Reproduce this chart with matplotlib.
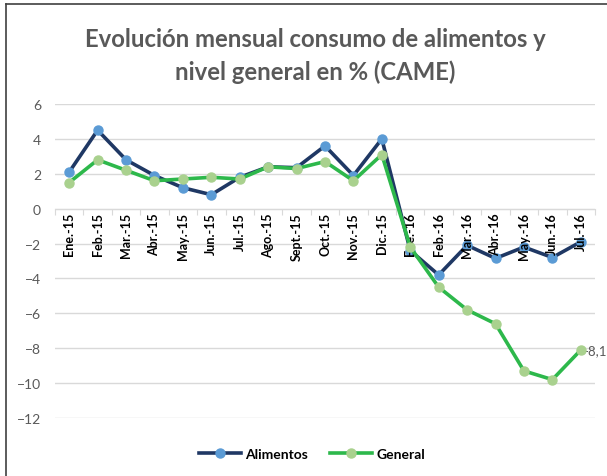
import matplotlib
matplotlib.use('Agg')
import matplotlib.pyplot as plt
from matplotlib.lines import Line2D
import numpy as np

plt.rcParams['font.family'] = ['Lato', 'DejaVu Sans']

meses = ['Ene.-15', 'Feb.-15', 'Mar.-15', 'Abr.-15', 'May.-15', 'Jun.-15', 'Jul.-15',
         'Ago.-15', 'Sept.-15', 'Oct.-15', 'Nov.-15', 'Dic.-15', 'Ene.-16', 'Feb.-16',
         'Mar.-16', 'Abr.-16', 'May.-16', 'Jun.-16', 'Jul.-16']
alimentos = [2.1, 4.5, 2.8, 1.9, 1.2, 0.8, 1.8, 2.4, 2.35, 3.6, 1.9, 4.0,
             -2.4, -3.8, -2.1, -2.85, -2.2, -2.8, -1.9]
general = [1.5, 2.8, 2.2, 1.6, 1.7, 1.8, 1.7, 2.4, 2.3, 2.7, 1.6, 3.1,
           -2.2, -4.5, -5.8, -6.6, -9.3, -9.8, -8.1]
yticks = [6, 4, 2, 0, -2, -4, -6, -8, -10, -12]

gray = '#595959'
fig = plt.figure(figsize=(6.07, 4.77), dpi=100)
ax = fig.add_axes([55 / 607, 1 - 419 / 477, 540 / 607, 314 / 477])

x = np.arange(len(meses))
ax.plot(x, alimentos, color='#1f3864', lw=2.6, marker='o', ms=6.5,
        mfc='#5b9bd5', mec='#5b9bd5', label='Alimentos', zorder=3)
ax.plot(x, general, color='#2db84b', lw=2.6, marker='o', ms=6.5,
        mfc='#a9d18e', mec='#a9d18e', label='General', zorder=4)

ax.set_xlim(-0.5, len(meses) - 0.5)
ax.set_ylim(-12, 6)
ax.set_yticks(yticks)
ax.tick_params(axis='y', length=0, labelsize=10, labelcolor=gray, pad=10)
ax.grid(axis='y', color='#d9d9d9', lw=1)
ax.set_axisbelow(True)
for s in ['top', 'right', 'left']:
    ax.spines[s].set_visible(False)
ax.spines['bottom'].set_position(('data', 0))
ax.spines['bottom'].set_color('#d9d9d9')
ax.set_xticks(np.arange(-0.5, len(meses), 1))
ax.set_xticklabels([])
ax.tick_params(axis='x', length=4, color='#d9d9d9', direction='out')

# etiquetas de categoria debajo de la linea del cero
for i, m in enumerate(meses):
    ax.text(i, -0.2, m, rotation=90, ha='center', va='top', fontsize=9,
            fontweight='bold', color='black')

ax.annotate('-8,1', (x[-1], general[-1]), xytext=(2, 0), textcoords='offset points',
            ha='left', va='center', fontsize=9.5, color=gray, annotation_clip=False)

fig.text(315 / 607, 1 - 47 / 477, 'Evolución mensual consumo de alimentos y',
         ha='center', va='baseline', fontsize=17.2, fontweight='bold', color=gray)
fig.text(315 / 607, 1 - 80 / 477, 'nivel general en % (CAME)',
         ha='center', va='baseline', fontsize=17.2, fontweight='bold', color=gray)

fig.legend(loc='center', bbox_to_anchor=(312 / 607, 1 - 455 / 477), ncol=2,
           frameon=False, handlelength=3.0, handletextpad=0.3, columnspacing=1.6,
           prop={'weight': 'bold', 'size': 10})

# borde del recuadro
fig.add_artist(Line2D([6 / 607, 6 / 607], [0, 1 - 5 / 477], color='#404040', lw=1.2))
fig.add_artist(Line2D([6 / 607, 1], [1 - 5 / 477, 1 - 5 / 477], color='#404040', lw=1.2))

fig.savefig('out.png', dpi=100)
